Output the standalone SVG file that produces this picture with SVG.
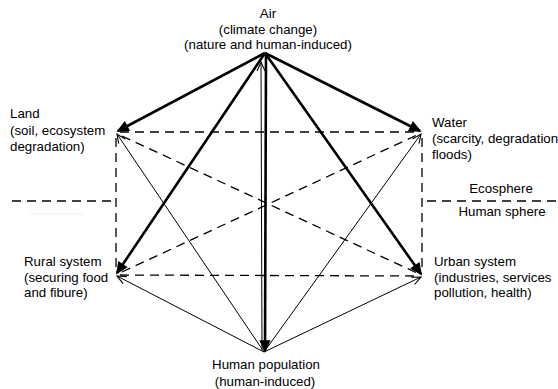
<svg xmlns="http://www.w3.org/2000/svg" width="558" height="389" viewBox="0 0 558 389">
<style>
  text { font-family: "Liberation Sans", Arial, sans-serif; font-size: 13.3px; fill: #000; }
  .mid { text-anchor: middle; }
  .thick { stroke: #000; stroke-width: 2.6; fill: none; marker-end: url(#ahThick); }
  .thin { stroke: #000; stroke-width: 1; fill: none; marker-end: url(#ahThin); }
  .dash { stroke: #000; stroke-width: 1.3; fill: none; stroke-dasharray: 9 6; }
</style>
<defs>
  <marker id="ahThick" markerUnits="userSpaceOnUse" viewBox="-13 -7 15 14" markerWidth="15" markerHeight="14" refX="0" refY="0" orient="auto">
    <path d="M-10,-4.5 L0,0 L-10,4.5 Z" fill="#000" stroke="#000" stroke-width="1.5" stroke-linejoin="miter"/>
  </marker>
  <marker id="ahThin" markerUnits="userSpaceOnUse" viewBox="-12 -6 14 12" markerWidth="14" markerHeight="12" refX="0" refY="0" orient="auto">
    <path d="M-9,-4 L0,0 L-9,4" fill="none" stroke="#000" stroke-width="1.1"/>
  </marker>
</defs>

<g id="connectors">
  <!-- dashed interrelations -->
  <line class="dash" x1="120" y1="132" x2="418" y2="132"/>
  <line class="dash" x1="120" y1="275" x2="418" y2="276"/>
  <line class="dash" x1="116" y1="138" x2="116" y2="270"/>
  <line class="dash" x1="422" y1="138" x2="422" y2="270"/>
  <line class="dash" x1="122" y1="136" x2="417" y2="273"/>
  <line class="dash" x1="122" y1="272" x2="417" y2="135"/>
  <!-- sphere divider -->
  <line class="dash" x1="12" y1="201" x2="112" y2="201"/>
  <line class="dash" x1="427" y1="201" x2="558" y2="201"/>
  <line x1="30" y1="214" x2="84" y2="214" stroke="#eeeeee" stroke-width="1"/>
  <!-- thick arrows from Air -->
  <line class="thick" x1="265" y1="53" x2="118" y2="131"/>
  <line class="thick" x1="265" y1="53" x2="420" y2="131"/>
  <line class="thick" x1="265" y1="53" x2="117" y2="273"/>
  <line class="thick" x1="265" y1="53" x2="421" y2="274"/>
  <line class="thick" x1="266" y1="55" x2="265" y2="351"/>
  <!-- thin arrows from Human population -->
  <line class="thin" x1="262" y1="350" x2="261" y2="62"/>
  <line class="thin" x1="264" y1="352" x2="117" y2="134"/>
  <line class="thin" x1="264" y1="352" x2="421" y2="134"/>
  <line class="thin" x1="264" y1="352" x2="117" y2="276"/>
  <line class="thin" x1="264" y1="352" x2="421" y2="277"/>
</g>

<g id="air">
  <text class="mid" x="268" y="18">Air</text>
  <text class="mid" x="268" y="33.5">(climate change)</text>
  <text class="mid" x="268" y="49">(nature and human-induced)</text>
</g>
<g id="land">
  <text x="10" y="118">Land</text>
  <text x="10" y="134.5">(soil, ecosystem</text>
  <text x="10" y="151">degradation)</text>
</g>
<g id="water">
  <text x="432" y="127">Water</text>
  <text x="432" y="143">(scarcity, degradation</text>
  <text x="432" y="159">floods)</text>
</g>
<g id="spheres">
  <text class="mid" x="501" y="193">Ecosphere</text>
  <text class="mid" x="502" y="216">Human sphere</text>
</g>
<g id="rural">
  <text x="24" y="266">Rural system</text>
  <text x="24" y="281.5">(securing food</text>
  <text x="24" y="297">and fibure)</text>
</g>
<g id="urban">
  <text x="434" y="266">Urban system</text>
  <text x="434" y="281.5">(industries, services</text>
  <text x="434" y="297">pollution, health)</text>
</g>
<g id="human">
  <text class="mid" x="266" y="369">Human population</text>
  <text class="mid" x="265" y="385.5">(human-induced)</text>
</g>
</svg>
